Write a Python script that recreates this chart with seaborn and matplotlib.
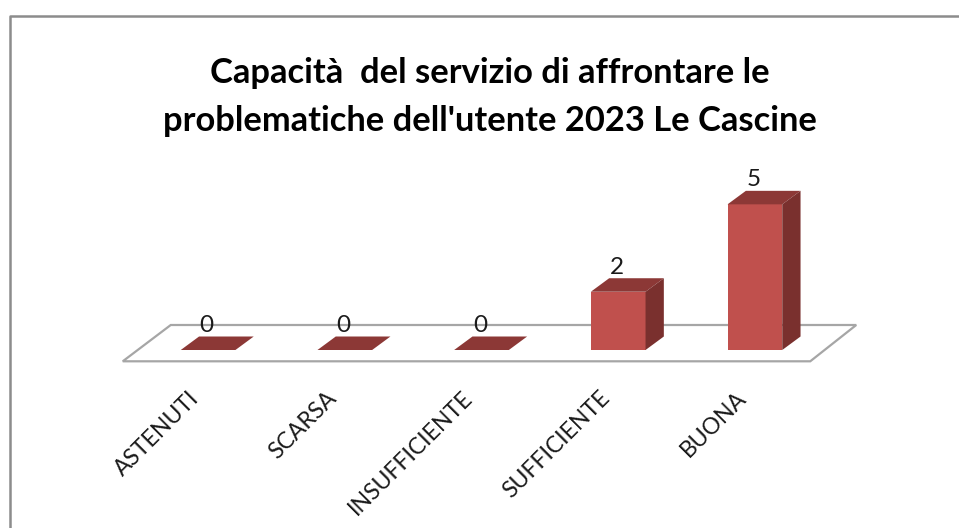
import matplotlib
matplotlib.use('Agg')
import matplotlib.pyplot as plt
from matplotlib.patches import Polygon
from matplotlib.lines import Line2D
from matplotlib.transforms import ScaledTranslation
import pandas as pd
import seaborn as sns

categories = ['ASTENUTI', 'SCARSA', 'INSUFFICIENTE', 'SUFFICIENTE', 'BUONA']
values = [0, 0, 0, 2, 5]
title = "Capacità  del servizio di affrontare le\nproblematiche dell'utente 2023 Le Cascine"

W, H = 959, 528
FRONT = '#C0504D'
TOP = '#8C3836'
SIDE = '#7A302E'
DEPTH_X, DEPTH_Y = 18.3, 13.5

sns.set_theme(style='white')
plt.rcParams['font.family'] = ['Lato', 'DejaVu Sans']

df = pd.DataFrame({'category': categories, 'value': values})

fig = plt.figure(figsize=(W / 100, H / 100), dpi=100)
ax = fig.add_axes([139.75 / W, (H - 350) / H, 683.5 / W, 174.8 / H])
ax.patch.set_alpha(0)

sns.barplot(data=df, x='category', y='value', color=FRONT, saturation=1, width=0.4, ax=ax,
            zorder=3, linewidth=0)
ax.set_xlim(-0.5, 4.5)
ax.set_ylim(0, 6)
ax.set(xlabel='', ylabel='')
ax.set_yticks([])
sns.despine(ax=ax, left=True, bottom=True)
ax.tick_params(axis='x', length=0, pad=27)
plt.setp(ax.get_xticklabels(), rotation=45, ha='right', rotation_mode='anchor',
         fontsize=16.5, color='#1a1a1a')
shift = ScaledTranslation(-14 / 72, 0, fig.dpi_scale_trans)
for lab in ax.get_xticklabels():
    lab.set_transform(lab.get_transform() + shift)

# floor of the 3d chart, pixels measured from the plot area
x0, y0 = ax.transData.transform((-0.5, 0))
x1, _ = ax.transData.transform((4.5, 0))
floor = [(x0 - 17, y0 - 11.3), (x1 - 13, y0 - 11.3), (x1 + 33, y0 + 25), (x0 + 31, y0 + 25)]
fig.add_artist(Polygon(floor, closed=True, transform=None, facecolor='white',
                       edgecolor='#A6A6A6', linewidth=1.6, zorder=-1))

# top and side faces from the bars seaborn drew
for bar, val in zip(ax.patches, values):
    (left, bottom), (right, top) = ax.transData.transform(
        [(bar.get_x(), 0), (bar.get_x() + bar.get_width(), val)])
    top_face = [(left, top), (right, top), (right + DEPTH_X, top + DEPTH_Y), (left + DEPTH_X, top + DEPTH_Y)]
    fig.add_artist(Polygon(top_face, closed=True, transform=None, facecolor=TOP, edgecolor='none', zorder=1))
    if val > 0:
        side_face = [(right, bottom), (right + DEPTH_X, bottom + DEPTH_Y),
                     (right + DEPTH_X, top + DEPTH_Y), (right, top)]
        fig.add_artist(Polygon(side_face, closed=True, transform=None, facecolor=SIDE, edgecolor='none', zorder=1))
    ax.annotate(str(val), (bar.get_x() + bar.get_width() / 2, val), xytext=(-1, 13),
                textcoords='offset points', ha='center', va='baseline', fontsize=17.5,
                color='#1a1a1a', zorder=5)

fig.text(490 / W, 1 - 97 / H, title, ha='center', va='center', fontsize=24.8, fontweight='bold',
         color='black', linespacing=1.58)

# chart frame, cut by the screenshot on the right and at the bottom
fig.add_artist(Line2D([10 / W, 10 / W, 1], [0, 1 - 16 / H, 1 - 16 / H], color='#8C8C8C', linewidth=1.8))

fig.savefig('out.png', dpi=100)
